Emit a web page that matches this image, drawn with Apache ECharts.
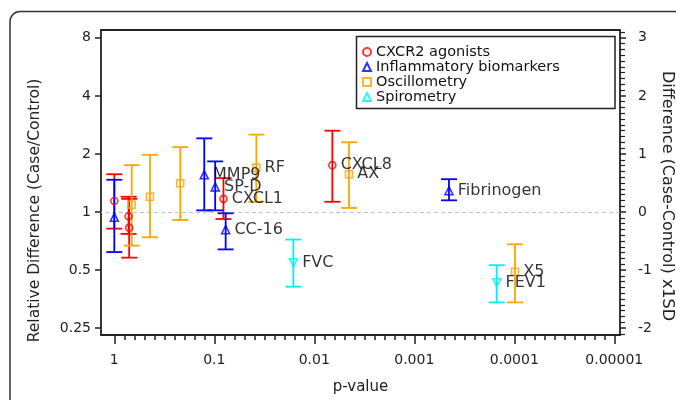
<!DOCTYPE html>
<html><head><meta charset="utf-8">
<script src="https://cdn.jsdelivr.net/npm/echarts@6/dist/echarts.min.js"></script>
<style>html,body{margin:0;padding:0;background:#fff}#c{width:676px;height:400px}</style>
</head><body><div id="c"></div>
<script>
// ---- tick labels (p-values and ratios; axes are drawn in log space) ----
const xTickValues = [1, 0.1, 0.01, 0.001, 0.0001, 0.00001];
const xTickLabels = ['1', '0.1', '0.01', '0.001', '0.0001', '0.00001'];
const yLeftTickValues = [0.25, 0.5, 1, 2, 4, 8];
const yLeftTickLabels = ['0.25', '0.5', '1', '2', '4', '8'];
const yRightTickValues = [-2, -1, 0, 1, 2, 3];
const yRightTickLabels = ['-2', '-1', '0', '1', '2', '3'];

// ---- series ----
const seriesNames = ['CXCR2 agonists', 'Inflammatory biomarkers', 'Oscillometry', 'Spirometry'];

const cxcrNames = ['', '', '', 'CXCL1', 'CXCL8'];
const cxcrP     = [1.0, 0.72, 0.71, 0.081, 0.0066];
const cxcrRatio = [1.14, 0.95, 0.83, 1.17, 1.75];
const cxcrLo    = [0.82, 0.77, 0.58, 0.92, 1.13];
const cxcrHi    = [1.57, 1.20, 1.17, 1.50, 2.64];

const inflNames = ['', 'MMP9', 'SP-D', 'CC-16', 'Fibrinogen'];
const inflP     = [1.0, 0.126, 0.098, 0.077, 0.00045];
const inflRatio = [0.94, 1.56, 1.35, 0.81, 1.29];
const inflLo    = [0.62, 1.02, 1.02, 0.64, 1.15];
const inflHi    = [1.47, 2.41, 1.83, 0.985, 1.48];

const oscNames = ['', '', '', 'RF', 'AX', 'X5'];
const oscP     = [0.67, 0.44, 0.219, 0.038, 0.0045, 0.0000984];
const oscRatio = [1.09, 1.20, 1.41, 1.70, 1.57, 0.49];
const oscLo    = [0.67, 0.74, 0.91, 1.13, 1.05, 0.34];
const oscHi    = [1.75, 1.98, 2.17, 2.52, 2.30, 0.68];

const spiroNames = ['FVC', 'FEV1'];
const spiroP     = [0.0162, 0.00015];
const spiroRatio = [0.546, 0.43];
const spiroLo    = [0.41, 0.34];
const spiroHi    = [0.72, 0.53];

const groups = [
  {names: cxcrNames, p: cxcrP, r: cxcrRatio, lo: cxcrLo, hi: cxcrHi},
  {names: inflNames, p: inflP, r: inflRatio, lo: inflLo, hi: inflHi},
  {names: oscNames, p: oscP, r: oscRatio, lo: oscLo, hi: oscHi},
  {names: spiroNames, p: spiroP, r: spiroRatio, lo: spiroLo, hi: spiroHi}
];
const colors = ['#ff0000', '#0000ff', '#ffa500', '#00f0f0'];
const symbols = ['circle', 'triangle', 'rect', 'triangle'];
const symbolSizes = [7, 8, 7, 8];
const symbolRotates = [0, 0, 0, 180];

// axis extents in log space: x = log10(p), y = log2(ratio) = right-axis value
const xLogMin = -5.057, xLogMax = 0.133;
const yLogMin = -2.118, yLogMax = 3.135;
const lx = v => Math.log10(v);
const ly = v => Math.log2(v);

// minor tick positions: 10 evenly spaced divisions per decade (log space)
const xMinorTicks = [];
for (let d = 0; d > -6; d--) for (let j = 1; j < 10; j++) {
  const t = d - j / 10;
  if (t > xLogMin && t < xLogMax) xMinorTicks.push(Math.round(t * 10) / 10);
}

const FONT = 'DejaVu Sans';
const INK = '#222';

const series = [];
groups.forEach((g, i) => {
  const col = colors[i];
  series.push({
    name: seriesNames[i] + ' CI',
    type: 'custom',
    xAxisIndex: 0, yAxisIndex: 0,
    z: 1,
    encode: {x: 0, y: [1, 2]},
    data: g.p.map((p, k) => [lx(p), ly(g.lo[k]), ly(g.hi[k])]),
    renderItem: function (params, api) {
      const x = api.value(0);
      const a = api.coord([x, api.value(2)]);
      const b = api.coord([x, api.value(1)]);
      const hw = 8;
      const st = {stroke: col, lineWidth: 1.8};
      return {type: 'group', children: [
        {type: 'line', shape: {x1: a[0], y1: a[1], x2: b[0], y2: b[1]}, style: st},
        {type: 'line', shape: {x1: a[0] - hw, y1: a[1], x2: a[0] + hw, y2: a[1]}, style: st},
        {type: 'line', shape: {x1: b[0] - hw, y1: b[1], x2: b[0] + hw, y2: b[1]}, style: st}
      ]};
    },
    markLine: i === 0 ? {
      silent: true, symbol: 'none', z: 0,
      label: {show: false},
      lineStyle: {color: '#c4c4c4', type: [4, 3], width: 1},
      data: [{yAxis: ly(1)}]
    } : undefined
  });
});
groups.forEach((g, i) => {
  const col = colors[i];
  series.push({
    name: seriesNames[i],
    type: 'scatter',
    xAxisIndex: 0, yAxisIndex: 0,
    z: 3,
    symbol: symbols[i],
    symbolSize: symbolSizes[i],
    symbolRotate: symbolRotates[i],
    itemStyle: {color: 'rgba(255,255,255,0)', borderColor: col, borderWidth: 1.6},
    label: {show: true, position: 'right', distance: 4, formatter: '{b}',
            fontFamily: FONT, fontSize: 16, color: '#000'},
    emphasis: {disabled: true},
    data: g.p.map((p, k) => ({name: g.names[k], value: [lx(p), ly(g.r[k])]}))
  });
});

const findLabel = (vals, labels, f, v) => {
  const k = vals.findIndex(t => Math.abs(f(t) - v) < 1e-6);
  return k >= 0 ? labels[k] : '';
};

const chart = echarts.init(document.getElementById('c'), null, {renderer: 'canvas'});
chart.setOption({
  animation: false,
  backgroundColor: '#fff',
  grid: {left: 101, right: 56, top: 30, bottom: 65, show: true, containLabel: false,
         outerBoundsMode: 'none',
         borderColor: INK, borderWidth: 1.8, backgroundColor: 'rgba(0,0,0,0)'},
  legend: {
    data: seriesNames,
    orient: 'vertical',
    left: 362, top: 44.5,
    padding: 0,
    itemWidth: 8, itemHeight: 8, itemGap: 0,
    selectedMode: false,
    textStyle: {fontFamily: FONT, fontSize: 14.5, lineHeight: 14.5, color: '#111'}
  },
  xAxis: [{
    type: 'value', inverse: true, position: 'bottom',
    min: xLogMin, max: xLogMax,
    axisLine: {show: false, onZero: false},
    splitLine: {show: false},
    axisTick: {show: true, customValues: xTickValues.map(lx), length: 9, lineStyle: {color: INK, width: 1.5}},
    axisLabel: {customValues: xTickValues.map(lx), margin: 18, fontFamily: FONT, fontSize: 14, color: INK,
                formatter: v => findLabel(xTickValues, xTickLabels, lx, v)},
    name: 'p-value', nameLocation: 'middle', nameGap: 45, nameMoveOverlap: false,
    nameTextStyle: {fontFamily: FONT, fontSize: 15, color: INK}
  }, {
    // minor ticks of the p-value axis, moved down onto the bottom edge
    type: 'value', inverse: true, position: 'top', offset: -305,
    min: xLogMin, max: xLogMax,
    axisLine: {show: false, onZero: false},
    splitLine: {show: false},
    axisTick: {show: true, inside: true, customValues: xMinorTicks, length: 5, lineStyle: {color: INK, width: 1.5}},
    axisLabel: {show: false}
  }],
  yAxis: [{
    type: 'value', position: 'left',
    min: yLogMin, max: yLogMax,
    axisLine: {show: false, onZero: false},
    splitLine: {show: false},
    axisTick: {show: true, customValues: yLeftTickValues.map(ly), length: 6, lineStyle: {color: INK, width: 1.5}},
    axisLabel: {customValues: yLeftTickValues.map(ly), margin: 10, fontFamily: FONT, fontSize: 14, color: INK,
                formatter: v => findLabel(yLeftTickValues, yLeftTickLabels, ly, v)},
    name: 'Relative Difference (Case/Control)', nameLocation: 'middle', nameGap: 58, nameMoveOverlap: false,
    nameTextStyle: {fontFamily: FONT, fontSize: 15.5, color: INK, padding: [0, 56, 0, 0]}
  }, {
    type: 'value', position: 'right',
    min: yLogMin, max: yLogMax,
    axisLine: {show: false, onZero: false},
    splitLine: {show: false},
    axisTick: {show: true, customValues: yRightTickValues, length: 6, lineStyle: {color: INK, width: 1.5}},
    minorTick: {show: true, splitNumber: 10, length: 5, lineStyle: {color: INK, width: 1.2}},
    axisLabel: {customValues: yRightTickValues, margin: 18, fontFamily: FONT, fontSize: 14, color: INK,
                formatter: v => findLabel(yRightTickValues, yRightTickLabels, t => t, v)},
    name: 'Difference (Case-Control) x1SD', nameLocation: 'middle', nameGap: 39, nameRotate: -90,
    nameMoveOverlap: false,
    nameTextStyle: {fontFamily: FONT, fontSize: 16, color: INK, padding: [0, 0, 0, 27]}
  }],
  graphic: [
    {type: 'rect', z: -10, silent: true,
     shape: {x: 10, y: 11.5, width: 720, height: 430, r: 10},
     style: {fill: 'none', stroke: '#333', lineWidth: 1.5}},
    {type: 'rect', z: 10, silent: true,
     shape: {x: 356.5, y: 36.5, width: 258.5, height: 72},
     style: {fill: 'none', stroke: INK, lineWidth: 1.5}}
  ],
  series: series
});
</script></body></html>
